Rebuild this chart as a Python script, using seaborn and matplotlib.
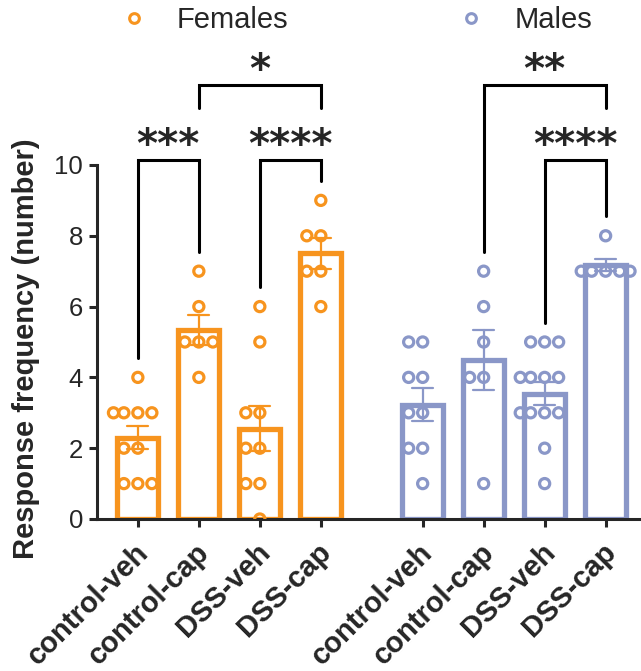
import matplotlib
matplotlib.use("Agg")
import matplotlib.pyplot as plt
import matplotlib.transforms as mtrans
import pandas as pd
import seaborn as sns
from matplotlib.lines import Line2D

groups = ["control-veh", "control-cap", "DSS-veh", "DSS-cap"]
sexes = ["Females", "Males"]
colors = {"Females": "#F7941E", "Males": "#8A97C8"}
positions = {"Females": [0, 1, 2, 3], "Males": [4.67, 5.67, 6.67, 7.67]}

female_vals = [
    [4, 3, 3, 3, 3, 2, 2, 1, 1, 1],
    [7, 6, 5, 5, 5, 4],
    [6, 5, 3, 3, 2, 2, 1, 1, 0],
    [9, 8, 8, 7, 7, 6],
]
male_vals = [
    [5, 5, 4, 4, 3, 3, 2, 2, 1],
    [7, 6, 5, 4, 4, 1],
    [5, 5, 5, 4, 4, 4, 4, 3, 3, 3, 3, 2, 1],
    [8, 7, 7, 7, 7, 7],
]

# (sex, group a, group b, bracket level, label)
comparisons = [
    ("Females", 0, 1, 0, "***"),
    ("Females", 2, 3, 0, "****"),
    ("Females", 1, 3, 1, "*"),
    ("Males", 2, 3, 0, "****"),
    ("Males", 1, 3, 1, "**"),
]

rows = []
for sex, vals in zip(sexes, [female_vals, male_vals]):
    for g, pos, v in zip(groups, positions[sex], vals):
        for y in v:
            rows.append({"sex": sex, "group": g, "pos": pos, "value": y})
df = pd.DataFrame(rows)

sns.set_style("ticks")
plt.rcParams["font.family"] = ["Liberation Sans", "DejaVu Sans"]

fig = plt.figure(figsize=(6.41, 6.71), dpi=100)
ax = fig.add_axes([97 / 641, 152 / 671, 544 / 641, 519 / 671])

for sex in sexes:
    c = colors[sex]
    d = df[df["sex"] == sex]
    sns.barplot(data=d, x="pos", y="value", native_scale=True, fill=False,
                color=c, width=0.67, linewidth=3.8, errorbar="se",
                capsize=0.34, err_kws={"color": c, "linewidth": 1.6}, ax=ax)
    n_before = len(ax.collections)
    sns.swarmplot(data=d, x="pos", y="value", native_scale=True, color=c,
                  size=7.3, ax=ax, zorder=4)
    for pts in ax.collections[n_before:]:
        pts.set_facecolor("none")
        pts.set_edgecolor(c)
        pts.set_linewidth(2.3)

ax.set_xlim(-0.67, 8.25)
ax.set_ylim(0, 14.66)
ax.set_yticks(range(0, 11, 2))
ax.tick_params(axis="y", labelsize=18.5, width=2.2, length=6, pad=4)
ax.tick_params(axis="x", width=2.2, length=6)
ticks = positions["Females"] + positions["Males"]
ax.set_xticks(ticks)
ax.set_xticklabels(groups * 2, rotation=45, ha="right", va="top",
                   rotation_mode="anchor", fontsize=21, fontweight="bold")
shift = mtrans.ScaledTranslation(-0.04, -0.06, fig.dpi_scale_trans)
for lab in ax.get_xticklabels():
    lab.set_transform(lab.get_transform() + shift)
ax.set_xlabel("")
ax.set_ylabel("Response frequency (number)", fontsize=21, fontweight="bold")
ax.yaxis.set_label_coords(-0.105, 0.329)
sns.despine(ax=ax)
ax.spines["left"].set_bounds(0, 10)
for s in ["left", "bottom"]:
    ax.spines[s].set_linewidth(2.2)

# significance brackets
levels = [10.15, 12.25]
data = {"Females": female_vals, "Males": male_vals}
for sex, a, b, lvl, label in comparisons:
    top = levels[lvl]
    lower = [(x[1], x[2]) for x in comparisons if x[0] == sex and x[3] < lvl]
    ends = []
    for i in (a, b):
        if any(i in pair for pair in lower):
            ends.append(top - 0.63)
        else:
            ends.append(max(data[sex][i]) + 0.55)
    xa, xb = positions[sex][a], positions[sex][b]
    ax.plot([xa, xa, xb, xb], [ends[0], top, top, ends[1]], color="black",
            linewidth=2.2, solid_joinstyle="miter", clip_on=False)
    ax.text((xa + xb) / 2, top + 0.08, label, ha="center", va="baseline",
            fontsize=29, fontweight="bold", family="DejaVu Sans")

handles = [Line2D([], [], linestyle="none", marker="o", markersize=7,
                  markerfacecolor="none", markeredgecolor=colors[s],
                  markeredgewidth=2.2, label=s) for s in sexes]
ax.legend(handles=handles, loc="center left", bbox_to_anchor=(0.0197, 0.9615),
          ncol=2, frameon=False, fontsize=21, handlelength=1,
          handletextpad=0.97, columnspacing=5.77, borderaxespad=0)

fig.text(-0.012, 0.955, ")", fontsize=20, fontweight="bold", va="center")

fig.savefig("out.png", dpi=100)
